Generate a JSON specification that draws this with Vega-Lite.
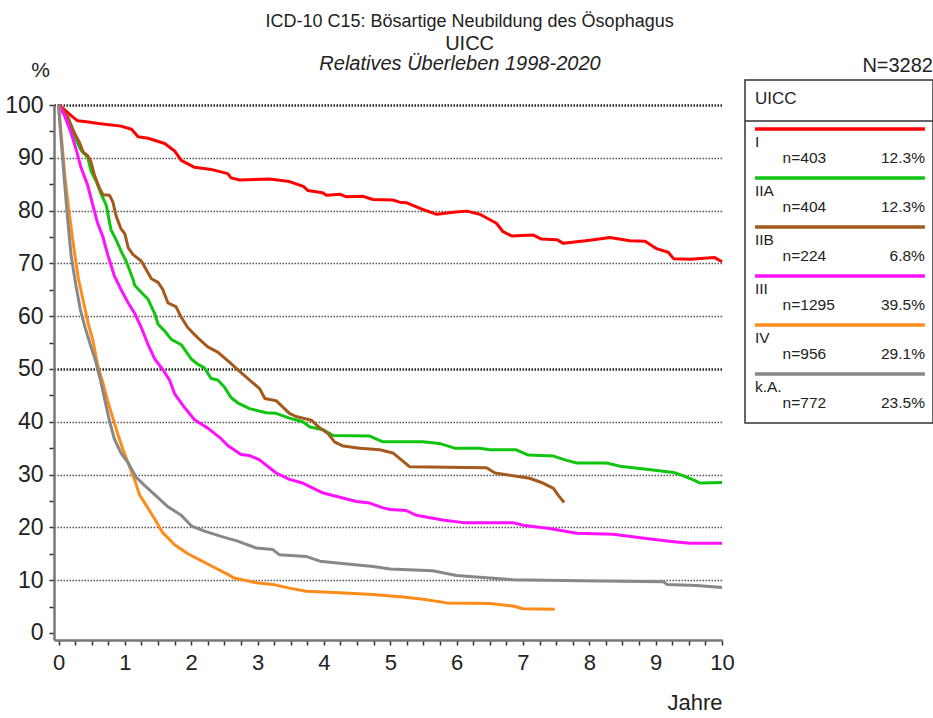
{
  "$schema": "https://vega.github.io/schema/vega-lite/v6.json",
  "background": "white",
  "padding": {"left": 4, "top": 13, "right": 0, "bottom": 5},
  "config": {
    "font": "Liberation Sans",
    "view": {"stroke": null},
    "title": {"color": "#222222", "fontWeight": "normal"},
    "text": {"color": "#222222"}
  },
  "title": {
    "text": "ICD-10 C15: Bösartige Neubildung des Ösophagus",
    "subtitle": "UICC",
    "fontSize": 18,
    "subtitleFontSize": 20,
    "subtitleColor": "#222222",
    "subtitleFontWeight": "normal",
    "subtitlePadding": 3,
    "anchor": "middle",
    "offset": 0
  },
  "resolve": {"scale": {"x": "independent", "y": "independent", "color": "shared"}},
  "columns": 2,
  "align": "none",
  "bounds": "full",
  "spacing": 8,
  "datasets": {
    "legend": [
      {"stage": "I", "n": "n=403", "pct": "12.3%"},
      {"stage": "IIA", "n": "n=404", "pct": "12.3%"},
      {"stage": "IIB", "n": "n=224", "pct": "6.8%"},
      {"stage": "III", "n": "n=1295", "pct": "39.5%"},
      {"stage": "IV", "n": "n=956", "pct": "29.1%"},
      {"stage": "k.A.", "n": "n=772", "pct": "23.5%"}
    ],
    "header": [{"stage": "UICC"}],
    "curves": [
      {"stage":"I","t":0,"v":100},{"stage":"I","t":0.1,"v":99},{"stage":"I","t":0.19,"v":98},{"stage":"I","t":0.29,"v":97},{"stage":"I","t":0.45,"v":96.8},{"stage":"I","t":0.6,"v":96.5},{"stage":"I","t":0.94,"v":96},{"stage":"I","t":1.1,"v":95.4},{"stage":"I","t":1.2,"v":94},{"stage":"I","t":1.35,"v":93.7},{"stage":"I","t":1.6,"v":92.7},{"stage":"I","t":1.75,"v":91.3},{"stage":"I","t":1.85,"v":89.5},{"stage":"I","t":2.05,"v":88.2},{"stage":"I","t":2.3,"v":87.8},{"stage":"I","t":2.55,"v":87},{"stage":"I","t":2.6,"v":86.2},{"stage":"I","t":2.73,"v":85.8},{"stage":"I","t":3.18,"v":86},{"stage":"I","t":3.48,"v":85.5},{"stage":"I","t":3.69,"v":84.6},{"stage":"I","t":3.76,"v":83.8},{"stage":"I","t":3.98,"v":83.4},{"stage":"I","t":4.04,"v":82.9},{"stage":"I","t":4.24,"v":83.1},{"stage":"I","t":4.34,"v":82.6},{"stage":"I","t":4.59,"v":82.7},{"stage":"I","t":4.74,"v":82.1},{"stage":"I","t":5.04,"v":82},{"stage":"I","t":5.14,"v":81.6},{"stage":"I","t":5.24,"v":81.5},{"stage":"I","t":5.45,"v":80.4},{"stage":"I","t":5.7,"v":79.3},{"stage":"I","t":5.95,"v":79.7},{"stage":"I","t":6.15,"v":79.9},{"stage":"I","t":6.35,"v":79.3},{"stage":"I","t":6.6,"v":77.6},{"stage":"I","t":6.7,"v":76},{"stage":"I","t":6.83,"v":75.2},{"stage":"I","t":7.15,"v":75.4},{"stage":"I","t":7.28,"v":74.6},{"stage":"I","t":7.51,"v":74.5},{"stage":"I","t":7.61,"v":73.8},{"stage":"I","t":8.01,"v":74.4},{"stage":"I","t":8.31,"v":74.9},{"stage":"I","t":8.61,"v":74.3},{"stage":"I","t":8.84,"v":74.2},{"stage":"I","t":9.01,"v":72.8},{"stage":"I","t":9.19,"v":72.1},{"stage":"I","t":9.27,"v":70.9},{"stage":"I","t":9.52,"v":70.8},{"stage":"I","t":9.89,"v":71.1},{"stage":"I","t":10,"v":70.3},

      {"stage":"IIA","t":0,"v":100},{"stage":"IIA","t":0.14,"v":97.4},{"stage":"IIA","t":0.24,"v":94.1},{"stage":"IIA","t":0.34,"v":91.4},{"stage":"IIA","t":0.44,"v":90.1},{"stage":"IIA","t":0.49,"v":87.5},{"stage":"IIA","t":0.57,"v":85.5},{"stage":"IIA","t":0.64,"v":83.2},{"stage":"IIA","t":0.72,"v":81},{"stage":"IIA","t":0.79,"v":76.4},{"stage":"IIA","t":0.87,"v":74.4},{"stage":"IIA","t":0.94,"v":72.4},{"stage":"IIA","t":1.02,"v":70.4},{"stage":"IIA","t":1.12,"v":67.1},{"stage":"IIA","t":1.15,"v":65.8},{"stage":"IIA","t":1.25,"v":64.5},{"stage":"IIA","t":1.35,"v":63.2},{"stage":"IIA","t":1.45,"v":60.5},{"stage":"IIA","t":1.5,"v":58.5},{"stage":"IIA","t":1.6,"v":57.2},{"stage":"IIA","t":1.7,"v":55.6},{"stage":"IIA","t":1.85,"v":54.6},{"stage":"IIA","t":2,"v":51.9},{"stage":"IIA","t":2.1,"v":50.9},{"stage":"IIA","t":2.2,"v":50.2},{"stage":"IIA","t":2.3,"v":48.2},{"stage":"IIA","t":2.4,"v":47.9},{"stage":"IIA","t":2.5,"v":46.6},{"stage":"IIA","t":2.6,"v":44.6},{"stage":"IIA","t":2.7,"v":43.6},{"stage":"IIA","t":2.88,"v":42.5},{"stage":"IIA","t":3.13,"v":41.7},{"stage":"IIA","t":3.28,"v":41.6},{"stage":"IIA","t":3.48,"v":40.7},{"stage":"IIA","t":3.68,"v":40},{"stage":"IIA","t":3.79,"v":39},{"stage":"IIA","t":3.99,"v":38.5},{"stage":"IIA","t":4.14,"v":37.4},{"stage":"IIA","t":4.69,"v":37.3},{"stage":"IIA","t":4.89,"v":36.2},{"stage":"IIA","t":5.49,"v":36.2},{"stage":"IIA","t":5.74,"v":35.9},{"stage":"IIA","t":5.97,"v":35},{"stage":"IIA","t":6.35,"v":35},{"stage":"IIA","t":6.5,"v":34.7},{"stage":"IIA","t":6.9,"v":34.7},{"stage":"IIA","t":7.08,"v":33.7},{"stage":"IIA","t":7.46,"v":33.5},{"stage":"IIA","t":7.66,"v":32.7},{"stage":"IIA","t":7.81,"v":32.2},{"stage":"IIA","t":8.26,"v":32.2},{"stage":"IIA","t":8.46,"v":31.6},{"stage":"IIA","t":8.86,"v":31},{"stage":"IIA","t":9.27,"v":30.4},{"stage":"IIA","t":9.39,"v":29.9},{"stage":"IIA","t":9.57,"v":29},{"stage":"IIA","t":9.67,"v":28.4},{"stage":"IIA","t":10,"v":28.5},

      {"stage":"IIB","t":0,"v":100},{"stage":"IIB","t":0.14,"v":97.7},{"stage":"IIB","t":0.24,"v":94.7},{"stage":"IIB","t":0.32,"v":92.8},{"stage":"IIB","t":0.37,"v":91.1},{"stage":"IIB","t":0.44,"v":90.4},{"stage":"IIB","t":0.49,"v":89.2},{"stage":"IIB","t":0.54,"v":86.8},{"stage":"IIB","t":0.62,"v":84.2},{"stage":"IIB","t":0.67,"v":83},{"stage":"IIB","t":0.77,"v":82.9},{"stage":"IIB","t":0.82,"v":81.6},{"stage":"IIB","t":0.87,"v":78.9},{"stage":"IIB","t":0.94,"v":76.6},{"stage":"IIB","t":1,"v":75.6},{"stage":"IIB","t":1.05,"v":73},{"stage":"IIB","t":1.12,"v":71.7},{"stage":"IIB","t":1.25,"v":70.4},{"stage":"IIB","t":1.4,"v":67.1},{"stage":"IIB","t":1.5,"v":66.4},{"stage":"IIB","t":1.57,"v":65.1},{"stage":"IIB","t":1.65,"v":62.5},{"stage":"IIB","t":1.77,"v":61.8},{"stage":"IIB","t":1.85,"v":59.8},{"stage":"IIB","t":1.95,"v":57.8},{"stage":"IIB","t":2.1,"v":55.9},{"stage":"IIB","t":2.25,"v":54.2},{"stage":"IIB","t":2.4,"v":53.2},{"stage":"IIB","t":2.55,"v":51.6},{"stage":"IIB","t":2.7,"v":49.9},{"stage":"IIB","t":2.88,"v":47.9},{"stage":"IIB","t":3.03,"v":46.3},{"stage":"IIB","t":3.11,"v":44.4},{"stage":"IIB","t":3.28,"v":44},{"stage":"IIB","t":3.48,"v":41.6},{"stage":"IIB","t":3.58,"v":41},{"stage":"IIB","t":3.81,"v":40.3},{"stage":"IIB","t":3.94,"v":38.8},{"stage":"IIB","t":4.06,"v":37.8},{"stage":"IIB","t":4.16,"v":36.2},{"stage":"IIB","t":4.29,"v":35.4},{"stage":"IIB","t":4.54,"v":35},{"stage":"IIB","t":4.84,"v":34.7},{"stage":"IIB","t":5.04,"v":34.1},{"stage":"IIB","t":5.29,"v":31.5},{"stage":"IIB","t":6.45,"v":31.3},{"stage":"IIB","t":6.58,"v":30.3},{"stage":"IIB","t":7.1,"v":29.3},{"stage":"IIB","t":7.3,"v":28.4},{"stage":"IIB","t":7.46,"v":27.4},{"stage":"IIB","t":7.53,"v":26.1},{"stage":"IIB","t":7.62,"v":24.7},

      {"stage":"III","t":0,"v":100},{"stage":"III","t":0.09,"v":98},{"stage":"III","t":0.19,"v":94.7},{"stage":"III","t":0.27,"v":91.4},{"stage":"III","t":0.34,"v":88.1},{"stage":"III","t":0.44,"v":84.8},{"stage":"III","t":0.52,"v":80.9},{"stage":"III","t":0.59,"v":77.6},{"stage":"III","t":0.67,"v":75},{"stage":"III","t":0.74,"v":71.7},{"stage":"III","t":0.84,"v":67.7},{"stage":"III","t":0.94,"v":65.1},{"stage":"III","t":1.05,"v":62.5},{"stage":"III","t":1.15,"v":60.5},{"stage":"III","t":1.25,"v":57.8},{"stage":"III","t":1.35,"v":54.6},{"stage":"III","t":1.45,"v":51.9},{"stage":"III","t":1.57,"v":49.9},{"stage":"III","t":1.67,"v":48},{"stage":"III","t":1.75,"v":45.3},{"stage":"III","t":1.9,"v":42.7},{"stage":"III","t":2.05,"v":40.4},{"stage":"III","t":2.25,"v":38.8},{"stage":"III","t":2.45,"v":36.8},{"stage":"III","t":2.55,"v":35.5},{"stage":"III","t":2.75,"v":33.8},{"stage":"III","t":2.88,"v":33.6},{"stage":"III","t":3.03,"v":32.8},{"stage":"III","t":3.28,"v":30.3},{"stage":"III","t":3.48,"v":29.1},{"stage":"III","t":3.68,"v":28.4},{"stage":"III","t":3.99,"v":26.5},{"stage":"III","t":4.24,"v":25.7},{"stage":"III","t":4.49,"v":24.9},{"stage":"III","t":4.69,"v":24.6},{"stage":"III","t":4.89,"v":23.7},{"stage":"III","t":5,"v":23.4},{"stage":"III","t":5.24,"v":23.2},{"stage":"III","t":5.39,"v":22.3},{"stage":"III","t":5.79,"v":21.4},{"stage":"III","t":6.1,"v":20.9},{"stage":"III","t":6.85,"v":20.9},{"stage":"III","t":7,"v":20.4},{"stage":"III","t":7.4,"v":19.8},{"stage":"III","t":7.81,"v":18.9},{"stage":"III","t":8.36,"v":18.7},{"stage":"III","t":8.86,"v":17.9},{"stage":"III","t":9.27,"v":17.3},{"stage":"III","t":9.52,"v":17},{"stage":"III","t":10,"v":17},

      {"stage":"IV","t":0,"v":100},{"stage":"IV","t":0.05,"v":93},{"stage":"IV","t":0.1,"v":86},{"stage":"IV","t":0.16,"v":79.6},{"stage":"IV","t":0.23,"v":73},{"stage":"IV","t":0.3,"v":67.1},{"stage":"IV","t":0.38,"v":62.5},{"stage":"IV","t":0.45,"v":58.5},{"stage":"IV","t":0.52,"v":55.3},{"stage":"IV","t":0.59,"v":50.7},{"stage":"IV","t":0.67,"v":47.3},{"stage":"IV","t":0.74,"v":44},{"stage":"IV","t":0.82,"v":40.7},{"stage":"IV","t":0.89,"v":37.8},{"stage":"IV","t":0.97,"v":34.8},{"stage":"IV","t":1.05,"v":32.2},{"stage":"IV","t":1.15,"v":28.9},{"stage":"IV","t":1.22,"v":26.2},{"stage":"IV","t":1.35,"v":23.6},{"stage":"IV","t":1.45,"v":21.6},{"stage":"IV","t":1.57,"v":19},{"stage":"IV","t":1.75,"v":16.7},{"stage":"IV","t":1.95,"v":15},{"stage":"IV","t":2.15,"v":13.7},{"stage":"IV","t":2.35,"v":12.4},{"stage":"IV","t":2.55,"v":11.1},{"stage":"IV","t":2.65,"v":10.4},{"stage":"IV","t":2.98,"v":9.5},{"stage":"IV","t":3.23,"v":9.2},{"stage":"IV","t":3.48,"v":8.5},{"stage":"IV","t":3.73,"v":7.9},{"stage":"IV","t":4.24,"v":7.6},{"stage":"IV","t":4.74,"v":7.3},{"stage":"IV","t":5.19,"v":6.8},{"stage":"IV","t":5.5,"v":6.4},{"stage":"IV","t":5.85,"v":5.7},{"stage":"IV","t":6.5,"v":5.6},{"stage":"IV","t":6.85,"v":5.1},{"stage":"IV","t":7,"v":4.6},{"stage":"IV","t":7.48,"v":4.5},

      {"stage":"k.A.","t":0,"v":100},{"stage":"k.A.","t":0.03,"v":95},{"stage":"k.A.","t":0.09,"v":85.5},{"stage":"k.A.","t":0.14,"v":78},{"stage":"k.A.","t":0.19,"v":71.5},{"stage":"k.A.","t":0.26,"v":66},{"stage":"k.A.","t":0.33,"v":61.2},{"stage":"k.A.","t":0.4,"v":57.9},{"stage":"k.A.","t":0.48,"v":54.6},{"stage":"k.A.","t":0.55,"v":51.9},{"stage":"k.A.","t":0.63,"v":48},{"stage":"k.A.","t":0.7,"v":44},{"stage":"k.A.","t":0.77,"v":40.1},{"stage":"k.A.","t":0.84,"v":36.8},{"stage":"k.A.","t":0.94,"v":34.1},{"stage":"k.A.","t":1.05,"v":32.2},{"stage":"k.A.","t":1.17,"v":29.5},{"stage":"k.A.","t":1.3,"v":27.9},{"stage":"k.A.","t":1.45,"v":26.2},{"stage":"k.A.","t":1.65,"v":23.9},{"stage":"k.A.","t":1.85,"v":22.3},{"stage":"k.A.","t":2,"v":20.3},{"stage":"k.A.","t":2.2,"v":19.3},{"stage":"k.A.","t":2.45,"v":18.3},{"stage":"k.A.","t":2.7,"v":17.4},{"stage":"k.A.","t":2.98,"v":16.1},{"stage":"k.A.","t":3.23,"v":15.8},{"stage":"k.A.","t":3.33,"v":14.8},{"stage":"k.A.","t":3.73,"v":14.5},{"stage":"k.A.","t":3.94,"v":13.6},{"stage":"k.A.","t":4.24,"v":13.2},{"stage":"k.A.","t":4.74,"v":12.6},{"stage":"k.A.","t":5,"v":12.1},{"stage":"k.A.","t":5.64,"v":11.8},{"stage":"k.A.","t":6,"v":10.9},{"stage":"k.A.","t":6.85,"v":10.1},{"stage":"k.A.","t":7.86,"v":9.9},{"stage":"k.A.","t":9.12,"v":9.7},{"stage":"k.A.","t":9.17,"v":9.2},{"stage":"k.A.","t":9.62,"v":9},{"stage":"k.A.","t":10,"v":8.6}
    ]
  },
  "concat": [
    {
      "width": 668,
      "height": 560,
      "title": {"text": "Relatives Überleben 1998-2020", "fontStyle": "italic", "fontSize": 20, "dx": 72, "offset": -15, "frame": "group"},
      "data": {"name": "curves"},
      "mark": {"type": "line", "strokeWidth": 3, "strokeJoin": "round"},
      "encoding": {
        "x": {
          "field": "t", "type": "quantitative",
          "scale": {"domain": [-0.068, 10], "nice": false, "zero": false},
          "axis": {
            "values": [0,0.25,0.5,0.75,1,1.25,1.5,1.75,2,2.25,2.5,2.75,3,3.25,3.5,3.75,4,4.25,4.5,4.75,5,5.25,5.5,5.75,6,6.25,6.5,6.75,7,7.25,7.5,7.75,8,8.25,8.5,8.75,9,9.25,9.5,9.75,10],
            "labelExpr": "datum.value % 1 === 0 ? '' + datum.value : ''",
            "labelOverlap": false,
            "labelFlush": false,
            "labelFontSize": 22,
            "labelColor": "#222222",
            "labelPadding": 7,
            "tickSize": 5,
            "tickColor": "#333333",
            "tickWidth": 1.5,
            "domainColor": "#777777",
            "domainWidth": 2.5,
            "grid": false,
            "title": "Jahre",
            "titleAnchor": "end",
            "titleFontSize": 22,
            "titleFontWeight": "normal",
            "titleColor": "#222222",
            "titlePadding": 19
          }
        },
        "y": {
          "field": "v", "type": "quantitative",
          "scale": {"domain": [-1.33, 100], "range": [560, 25], "nice": false, "zero": false},
          "axis": {
            "values": [0,5,10,15,20,25,30,35,40,45,50,55,60,65,70,75,80,85,90,95,100],
            "labelExpr": "datum.value % 10 === 0 ? '' + datum.value : ''",
            "labelOverlap": false,
            "labelFlush": false,
            "labelFontSize": 23,
            "labelColor": "#222222",
            "labelPadding": 6,
            "tickSize": 5,
            "tickColor": "#333333",
            "tickWidth": 1.5,
            "domainColor": "#777777",
            "domainWidth": 2.5,
            "grid": true,
            "gridDash": [1.5, 1.5],
            "gridColor": {"condition": {"test": "datum.value % 50 === 0", "value": "#222222"}, "value": "#555555"},
            "gridWidth": {"condition": {"test": "datum.value % 50 === 0", "value": 2.3}, "value": 1.4},
            "gridOpacity": {"condition": {"test": "datum.value % 10 !== 0 || datum.value === 0", "value": 0}, "value": 1},
            "title": "%",
            "titleAngle": 0,
            "titleAlign": "center",
            "titleBaseline": "alphabetic",
            "titleX": -14,
            "titleY": -4,
            "titleFontSize": 21,
            "titleFontWeight": "normal",
            "titleColor": "#222222"
          }
        },
        "color": {
          "field": "stage", "type": "nominal",
          "scale": {"domain": ["I","IIA","IIB","III","IV","k.A."], "range": ["#ff0000","#10c410","#a45a1c","#ff10ff","#ff8c1a","#888888"]},
          "legend": null
        }
      }
    },
    {
      "width": 188,
      "height": 343,
      "title": {"text": "N=3282", "anchor": "end", "fontSize": 20, "offset": 4, "frame": "group"},
      "view": {"stroke": "#333333", "strokeWidth": 1.5},
      "layer": [
        {
          "data": {"name": "header"},
          "mark": {"type": "rule", "color": "#333333", "strokeWidth": 1.5},
          "encoding": {
            "y": {"field": "stage", "type": "nominal", "bandPosition": 0.837, "scale": {"type": "band", "domain": ["UICC","I","IIA","IIB","III","IV","k.A."], "paddingInner": 0, "paddingOuter": 0}, "axis": null}
          }
        },
        {
          "data": {"name": "header"},
          "mark": {"type": "text", "align": "left", "baseline": "middle", "fontSize": 17},
          "encoding": {
            "x": {"datum": 0.053, "type": "quantitative", "scale": {"domain": [0, 1], "nice": false, "zero": false}, "axis": null},
            "y": {"field": "stage", "type": "nominal", "bandPosition": 0.38, "scale": {"type": "band", "domain": ["UICC","I","IIA","IIB","III","IV","k.A."], "paddingInner": 0, "paddingOuter": 0}, "axis": null},
            "text": {"field": "stage"}
          }
        },
        {
          "data": {"name": "legend"},
          "mark": {"type": "rule", "strokeWidth": 3.5},
          "encoding": {
            "x": {"datum": 0.053, "type": "quantitative", "scale": {"domain": [0, 1], "nice": false, "zero": false}, "axis": null},
            "x2": {"datum": 0.957},
            "y": {"field": "stage", "type": "nominal", "bandPosition": 0, "scale": {"type": "band", "domain": ["UICC","I","IIA","IIB","III","IV","k.A."], "paddingInner": 0, "paddingOuter": 0}, "axis": null},
            "color": {"field": "stage", "type": "nominal", "scale": {"domain": ["I","IIA","IIB","III","IV","k.A."], "range": ["#ff0000","#10c410","#a45a1c","#ff10ff","#ff8c1a","#888888"]}, "legend": null}
          }
        },
        {
          "data": {"name": "legend"},
          "mark": {"type": "text", "align": "left", "baseline": "middle", "fontSize": 15.5},
          "encoding": {
            "x": {"datum": 0.053, "type": "quantitative", "scale": {"domain": [0, 1], "nice": false, "zero": false}, "axis": null},
            "y": {"field": "stage", "type": "nominal", "bandPosition": 0.27, "scale": {"type": "band", "domain": ["UICC","I","IIA","IIB","III","IV","k.A."], "paddingInner": 0, "paddingOuter": 0}, "axis": null},
            "text": {"field": "stage"}
          }
        },
        {
          "data": {"name": "legend"},
          "mark": {"type": "text", "align": "left", "baseline": "middle", "fontSize": 15.5},
          "encoding": {
            "x": {"datum": 0.2, "type": "quantitative", "scale": {"domain": [0, 1], "nice": false, "zero": false}, "axis": null},
            "y": {"field": "stage", "type": "nominal", "bandPosition": 0.6, "scale": {"type": "band", "domain": ["UICC","I","IIA","IIB","III","IV","k.A."], "paddingInner": 0, "paddingOuter": 0}, "axis": null},
            "text": {"field": "n"}
          }
        },
        {
          "data": {"name": "legend"},
          "mark": {"type": "text", "align": "right", "baseline": "middle", "fontSize": 15.5},
          "encoding": {
            "x": {"datum": 0.957, "type": "quantitative", "scale": {"domain": [0, 1], "nice": false, "zero": false}, "axis": null},
            "y": {"field": "stage", "type": "nominal", "bandPosition": 0.6, "scale": {"type": "band", "domain": ["UICC","I","IIA","IIB","III","IV","k.A."], "paddingInner": 0, "paddingOuter": 0}, "axis": null},
            "text": {"field": "pct"}
          }
        }
      ]
    }
  ]
}
